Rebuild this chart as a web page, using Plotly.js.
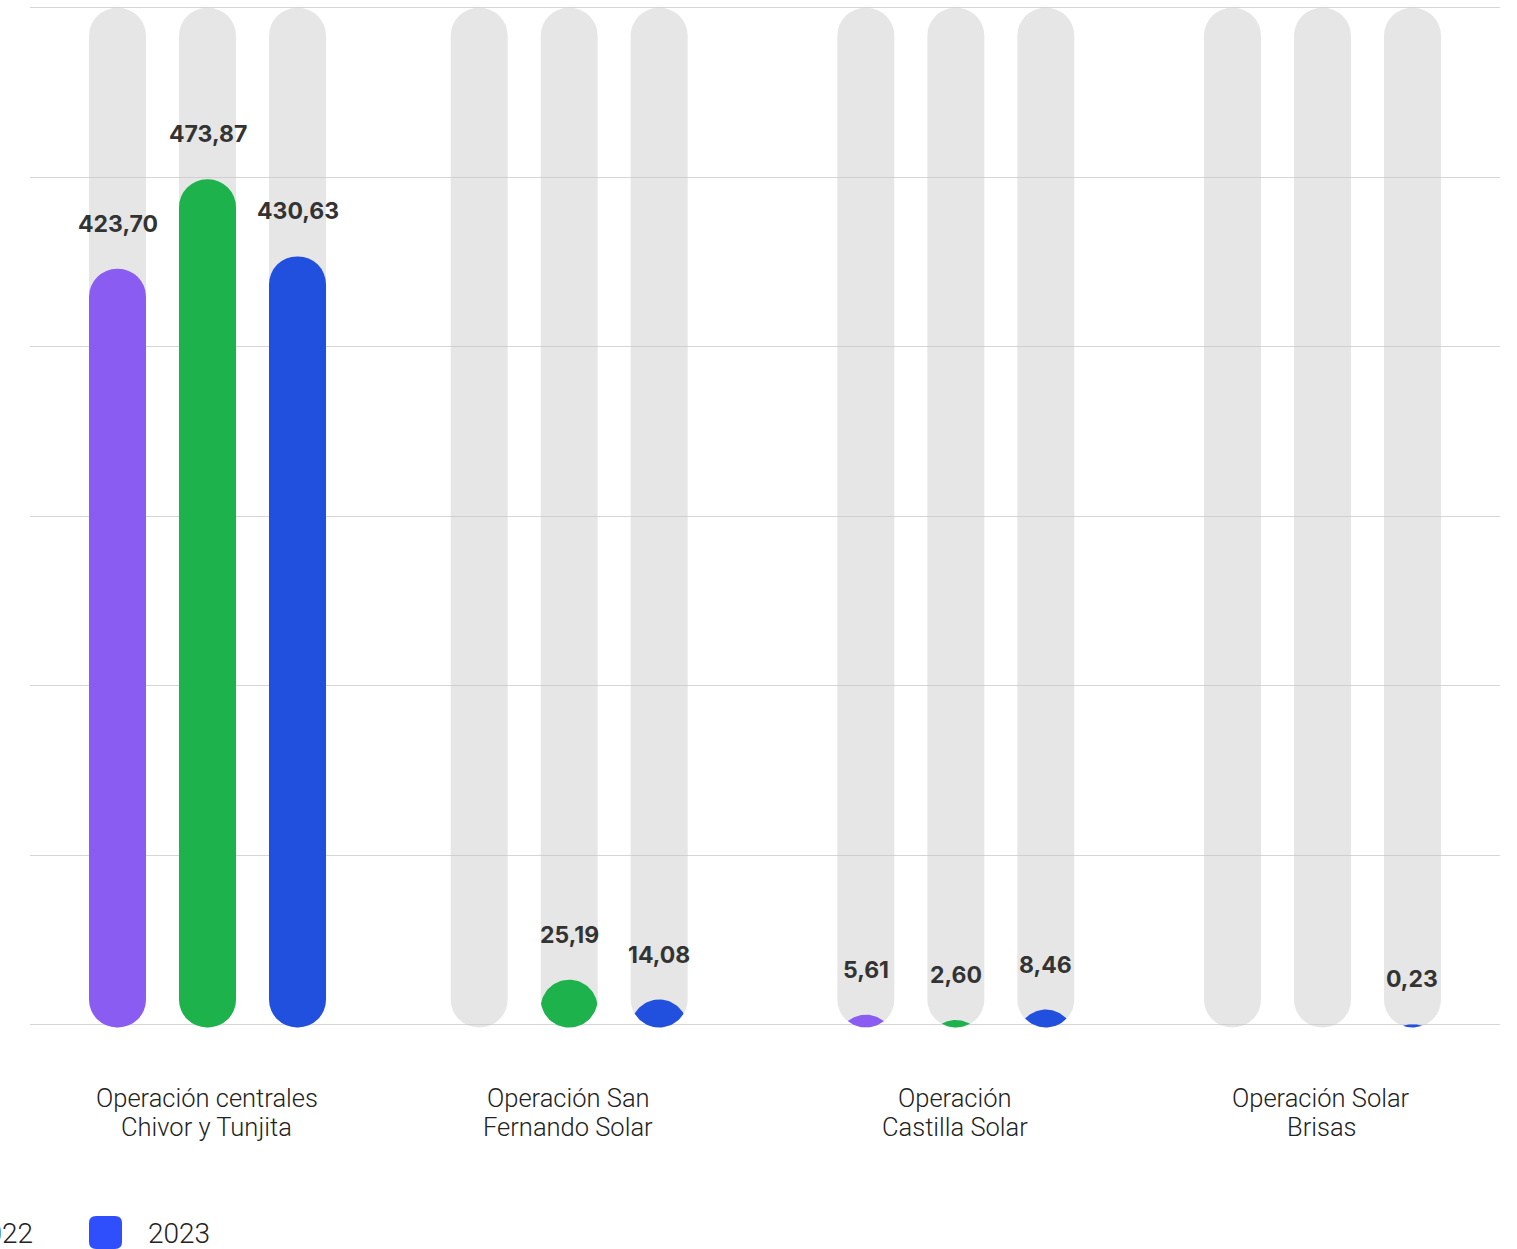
<!DOCTYPE html>
<html><head><meta charset="utf-8">
<script src="https://cdn.plot.ly/plotly-3.0.1.min.js"></script>
<style>html,body{margin:0;padding:0;background:#fff;overflow:hidden}#chart{width:1517px;height:1249px}</style>
</head><body><div id="chart"></div>
<script>
// ---- data ----
const categories = ["Operación centrales<br>Chivor y Tunjita", "Operación San<br>Fernando Solar", "Operación<br>Castilla Solar", "Operación Solar<br>Brisas"];
const seriesNames = ["2021", "2022", "2023"];
const values2021 = [423.70, null, 5.61, null];
const values2022 = [473.87, 25.19, 2.60, null];
const values2023 = [430.63, 14.08, 8.46, 0.23];
const seriesValues = [values2021, values2022, values2023];

// ---- style ----
const barColors = ["#8B5CF2", "#1EB24C", "#214FDE"];
const legendColors = ["#8B5CF2", "#1EB24C", "#2E4FFB"];
const pillColor = "#E6E6E6";
const W = 1517, H = 1249;
const ML = 30, MR = 17, MT = 6, MB = 219;
const plotW = W - ML - MR, plotH = H - MT - MB;
const yRange = [-3, 571];
const pxPerUnit = plotH / (yRange[1] - yRange[0]);
const xRange = [-0.4776, 3.4776];
const unitPx = plotW / (xRange[1] - xRange[0]);
const barWpx = 57;
const rPx = barWpx / 2;
const widthU = barWpx / unitPx;
const seriesPx = [-90, 0, 90];
const groupShiftPx = [0, -10, 5, 0];
const rU = rPx / pxPerUnit;
const pillBottom = -1.6;
const pillTop = 570;
const boldFont = "Inter, 'Liberation Sans', Arial, sans-serif";
const lightFont = "Roboto, Inter, 'Liberation Sans', Arial, sans-serif";

const centerShift = (s, i) => (seriesPx[s] + groupShiftPx[i]) / unitPx;
const off = (s, i) => centerShift(s, i) - widthU / 2;
const barMarker = color => ({color: color, cornerradius: "50%", line: {width: 0}});
const hiddenX = {type: "category", categoryorder: "array", categoryarray: categories, range: xRange,
  showgrid: false, zeroline: false, showline: false, showticklabels: false, ticks: "", fixedrange: true};
const hiddenY = {showgrid: false, zeroline: false, showline: false, showticklabels: false, ticks: "", fixedrange: true};

const layout = {
  width: W, height: H, margin: {l: ML, r: MR, t: MT, b: MB, pad: 0},
  paper_bgcolor: "#ffffff", plot_bgcolor: "rgba(0,0,0,0)",
  barmode: "overlay", showlegend: false,
  xaxis: Object.assign({}, hiddenX, {anchor: "y"}),
  yaxis: Object.assign({}, hiddenY, {anchor: "x", range: yRange}),
  xaxis2: Object.assign({}, hiddenX, {anchor: "y2"}),
  yaxis2: Object.assign({}, hiddenY, {anchor: "x2", range: yRange, showgrid: true,
    gridcolor: "rgba(196,196,196,0.7)", gridwidth: 1, tick0: 0, dtick: 95}),
  // linear twin of the category axis (category i sits at i) for the short, lens-shaped bars
  xaxis3: {type: "linear", overlaying: "x2", anchor: "y2", range: xRange, showgrid: false, zeroline: false,
    showline: false, showticklabels: false, ticks: "", fixedrange: true}
};

const traces = [];
// gray background pills (a bar with a base is rounded at both ends)
for (let s = 0; s < 3; s++) {
  traces.push({type: "bar", x: categories, y: categories.map(() => pillTop - pillBottom),
    base: categories.map(() => pillBottom), width: widthU, offset: categories.map((c, i) => off(s, i)),
    xaxis: "x", yaxis: "y", hoverinfo: "skip", showlegend: false, marker: barMarker(pillColor)});
}
// coloured bars
for (let s = 0; s < 3; s++) {
  const vals = seriesValues[s];
  const isTall = v => v !== null && v - pillBottom >= 2 * rU;
  traces.push({type: "bar", name: seriesNames[s], x: categories, y: vals.map(v => isTall(v) ? v - pillBottom : null),
    base: categories.map(() => pillBottom), width: widthU, offset: categories.map((c, i) => off(s, i)),
    xaxis: "x2", yaxis: "y2", hoverinfo: "skip", showlegend: false, marker: barMarker(barColors[s])});
  // short bars: the rounded top of the bar clipped by the pill's rounded bottom (a lens)
  vals.forEach((v, i) => {
    if (v === null || isTall(v)) return;
    const hPx = (v - pillBottom) * pxPerUnit;
    const L = pillBottom + (v - pillBottom) / 2;
    const d = rPx - hPx / 2;
    const a = Math.sqrt(rPx * rPx - d * d);
    const cx = i + centerShift(s, i);
    const xs = [], ys = [], N = 40;
    for (let k = 0; k <= N; k++) {            // upper arc, left to right
      const x = -a * Math.cos(Math.PI * k / N);
      xs.push(cx + x / unitPx); ys.push(L + (-d + Math.sqrt(Math.max(0, rPx * rPx - x * x))) / pxPerUnit);
    }
    for (let k = 0; k <= N; k++) {            // lower arc, right to left
      const x = a * Math.cos(Math.PI * k / N);
      xs.push(cx + x / unitPx); ys.push(L + (d - Math.sqrt(Math.max(0, rPx * rPx - x * x))) / pxPerUnit);
    }
    traces.push({type: "scatter", mode: "lines", x: xs, y: ys, fill: "toself", fillcolor: barColors[s],
      line: {width: 0, color: barColors[s]}, xaxis: "x3", yaxis: "y2", hoverinfo: "skip", showlegend: false, name: seriesNames[s]});
  });
}

const annotations = [];
// value labels
for (let s = 0; s < 3; s++) {
  seriesValues[s].forEach((v, i) => {
    if (v === null) return;
    annotations.push({xref: "x2", yref: "y2", x: categories[i], y: v, xshift: seriesPx[s] + groupShiftPx[i],
      yshift: 29, yanchor: "bottom", xanchor: "center", showarrow: false,
      text: v.toFixed(2).replace(".", ","), font: {family: boldFont, size: 23, color: "#333333", weight: 700}});
  });
}
// category labels (two lines)
const pyToPaper = py => (MT + plotH - py) / plotH;
const pxToPaper = px => (px - ML) / plotW;
const lineY = [1098, 1127];
categories.forEach((c, i) => {
  c.split("<br>").forEach((line, k) => {
    annotations.push({xref: "x2", yref: "paper", x: c, y: pyToPaper(lineY[k]), xshift: groupShiftPx[i] - 1,
      xanchor: "center", yanchor: "middle", showarrow: false, text: line,
      font: {family: lightFont, size: 25.5, color: "#222222", weight: 300}});
  });
});
// legend (drawn manually; the original is cut off at the left edge of the page)
const shapes = [];
const legPitch = 179, legSq0 = 89, legSq = 33, legTextOff = 57, legCY = 1233;
seriesNames.forEach((n, s) => {
  const k = s - 2;
  if (k < -1) return; // this entry lies wholly outside the page
  const x0 = legSq0 + k * legPitch, x1 = x0 + legSq, y0 = 1216, y1 = y0 + legSq, r = 7;
  const X = pxToPaper, Y = pyToPaper;
  const path = `M${X(x0 + r)},${Y(y0)} H${X(x1 - r)} Q${X(x1)},${Y(y0)} ${X(x1)},${Y(y0 + r)} V${Y(y1 - r)} Q${X(x1)},${Y(y1)} ${X(x1 - r)},${Y(y1)} H${X(x0 + r)} Q${X(x0)},${Y(y1)} ${X(x0)},${Y(y1 - r)} V${Y(y0 + r)} Q${X(x0)},${Y(y0)} ${X(x0 + r)},${Y(y0)} Z`;
  shapes.push({type: "path", xref: "paper", yref: "paper", path: path, fillcolor: legendColors[s], line: {width: 0}, layer: "above"});
  annotations.push({xref: "paper", yref: "paper", x: pxToPaper(x0 + legTextOff + (k < 0 ? 2 : 0)), y: pyToPaper(legCY), xanchor: "left", yanchor: "middle",
    showarrow: false, text: n, font: {family: lightFont, size: 28, color: "#222222", weight: 300}});
});
layout.annotations = annotations;
layout.shapes = shapes;

Plotly.newPlot("chart", traces, layout, {displayModeBar: false, staticPlot: true});
</script></body></html>
